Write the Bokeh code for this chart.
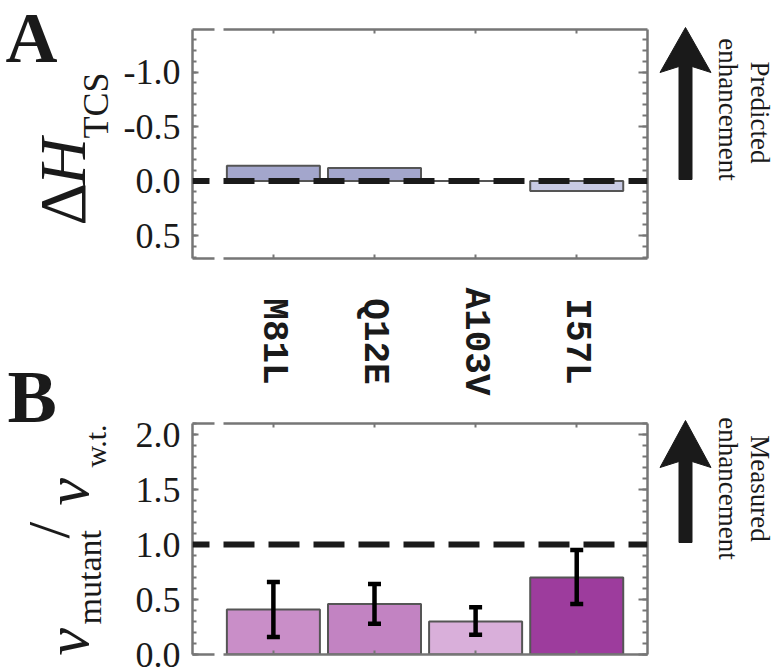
import numpy as np
from math import pi
from bokeh.plotting import figure
from bokeh.models import (Range1d, LinearAxis, FixedTicker, Span, Whisker, TeeHead,
                          ColumnDataSource)
from bokeh.core.properties import value
from bokeh.layouts import row, column
from bokeh.embed import file_html
from bokeh.resources import INLINE

# ---------------- data ----------------
categories = ["M81L", "Q12E", "A103V", "I57L"]
delta_h_tcs = [-0.14, -0.12, 0.0, 0.09]
rate_ratio = [0.41, 0.46, 0.30, 0.70]
rate_upper = [0.66, 0.64, 0.43, 0.95]
rate_lower = [0.16, 0.28, 0.18, 0.46]
colors_a = ["#a3a6cc", "#a3a6cc", "#a3a6cc", "#c8cae4"]
colors_b = ["#c98ec8", "#c283c2", "#d9afda", "#9d3c9d"]
ticks_a = [-1.0, -0.5, 0.0, 0.5]
tick_labels_a = ["-1.0", "-0.5", "0.0", "0.5"]
ticks_b = [0.0, 0.5, 1.0, 1.5, 2.0]
tick_labels_b = ["0.0", "0.5", "1.0", "1.5", "2.0"]

xs = list(range(1, len(categories) + 1))

# ---------------- layout constants ----------------
TOTAL_H = 667
LEFT_W = 120
MID_W = 531
RIGHT_W = 124
HA, HBAND, HB = 262, 158, 247
GRAY = "#767676"
INK = "#1a1a1a"
SERIF = "Liberation Serif"

x_range = Range1d(0.2, 4.7)


def style_axis(ax, major_in, minor_in, labels=True):
    ax.axis_line_color = GRAY
    ax.axis_line_width = 2.5
    ax.major_tick_line_color = GRAY
    ax.major_tick_line_width = 2
    ax.minor_tick_line_color = GRAY
    ax.minor_tick_line_width = 2
    ax.major_tick_in = major_in
    ax.major_tick_out = 0
    ax.minor_tick_in = minor_in
    ax.minor_tick_out = 0
    if labels:
        ax.major_label_text_font = SERIF
        ax.major_label_text_font_size = "36px"
        ax.major_label_text_color = INK
        ax.major_label_standoff = 12
    else:
        ax.major_label_text_font_size = "1px"
        ax.major_label_text_color = None
        ax.major_label_standoff = 0


def make_panel(height, yr, mt, mb, yticks, ylabels, yminor):
    p = figure(width=MID_W, height=height, x_range=x_range, y_range=yr,
               output_backend="svg", toolbar_location=None,
               min_border_left=72, min_border_right=4,
               min_border_top=mt, min_border_bottom=mb)
    p.xgrid.visible = False
    p.ygrid.visible = False
    p.outline_line_color = None
    p.background_fill_color = "white"
    p.border_fill_color = "white"

    left = p.yaxis[0]
    left.ticker = FixedTicker(ticks=yticks, minor_ticks=yminor)
    left.major_label_overrides = {t: l for t, l in zip(yticks, ylabels)}
    style_axis(left, 6, 4)
    bottom = p.xaxis[0]
    bottom.ticker = FixedTicker(ticks=xs, minor_ticks=[])
    style_axis(bottom, 4, 0, labels=False)
    bottom.axis_line_dash = "22 9 2000"

    right = LinearAxis(ticker=FixedTicker(ticks=yticks, minor_ticks=yminor))
    style_axis(right, 9, 5, labels=False)
    p.add_layout(right, "right")
    top = LinearAxis(ticker=FixedTicker(ticks=xs, minor_ticks=[]))
    style_axis(top, 4, 0, labels=False)
    top.axis_line_dash = "22 9 2000"
    p.add_layout(top, "above")
    return p


def blank_fig(width, height, xr, yr, **kw):
    p = figure(width=width, height=height, x_range=xr, y_range=yr,
               x_axis_type=None, y_axis_type=None,
               output_backend="svg", toolbar_location=None,
               min_border=0, **kw)
    p.xgrid.visible = False
    p.ygrid.visible = False
    p.outline_line_color = None
    p.background_fill_color = "white"
    p.border_fill_color = "white"
    return p


def Y(y_top):
    return TOTAL_H - y_top


def txt(p, x, y, text, size, angle=0.0, align="left", style="normal", font=SERIF):
    """(x, y) is the baseline point in page pixels (y from the top)."""
    off = 0.33 * size  # distance from baseline to the text's middle
    if angle == 0:
        ax_, ay_ = x, y - off
    elif angle > 0:
        ax_, ay_ = x - off, y
    else:
        ax_, ay_ = x + off, y
    p.text(x=[ax_], y=[Y(ay_)], text=[text], angle=angle, text_align=align,
           text_baseline="middle", text_font=value(font), text_font_size=f"{size}px",
           text_font_style=style, text_color=INK)


# ---------------- panel A ----------------
minor_a = [round(v, 2) for v in np.arange(-1.3, 0.75, 0.1)]
pA = make_panel(HA, Range1d(0.71, -1.39), 29, 4, ticks_a, tick_labels_a, minor_a)
pA.vbar(x=xs, top=delta_h_tcs, bottom=0, width=0.92, fill_color=colors_a,
        line_color="#555555", line_width=2)
pA.add_layout(Span(location=0, dimension="width", line_color=INK, line_width=6,
                   line_dash="31 14", line_dash_offset=14))

# ---------------- category band ----------------
band = blank_fig(MID_W, HBAND, x_range, Range1d(0, 1),
                 min_border_left=72, min_border_right=4)
band.text(x=xs, y=[0.5] * len(xs), text=categories, angle=-pi / 2,
          text_align="center", text_baseline="middle",
          text_font=value("Liberation Mono"), text_font_style="bold",
          text_font_size="36px", text_color=INK)

# ---------------- panel B ----------------
minor_b = [round(v, 2) for v in np.arange(0.0, 2.15, 0.1)]
pB = make_panel(HB, Range1d(0.0, 2.1), 3, 13, ticks_b, tick_labels_b, minor_b)
pB.vbar(x=xs, top=rate_ratio, bottom=0, width=0.92, fill_color=colors_b,
        line_color="#555555", line_width=2)
pB.add_layout(Span(location=1.0, dimension="width", line_color=INK, line_width=6,
                   line_dash="31 14", line_dash_offset=14))
src = ColumnDataSource(dict(x=xs, upper=rate_upper, lower=rate_lower))
pB.add_layout(Whisker(base="x", upper="upper", lower="lower", source=src,
                      level="overlay", line_width=4.5, line_color="black",
                      upper_head=TeeHead(size=13, line_width=4.5, line_color="black"),
                      lower_head=TeeHead(size=13, line_width=4.5, line_color="black")))

# ---------------- left column: panel letters and y labels ----------------
L = blank_fig(LEFT_W, TOTAL_H, Range1d(0, LEFT_W), Range1d(0, TOTAL_H))
txt(L, 5, 61, "A", 72, style="bold")
txt(L, 84, 225, "Δ", 66, angle=pi / 2)
txt(L, 84, 185, "H", 66, angle=pi / 2, style="italic")
txt(L, 107, 138, "TCS", 36, angle=pi / 2)
txt(L, 7, 421, "B", 74, style="bold")
txt(L, 87, 655, "ν", 62, angle=pi / 2, style="italic")
txt(L, 100, 624, "mutant", 34, angle=pi / 2)
txt(L, 68, 538, "/", 60, angle=pi / 2)
txt(L, 87, 505, "ν", 62, angle=pi / 2, style="italic")
txt(L, 105, 467, "w.t.", 30, angle=pi / 2)

# ---------------- right column: arrows and notes ----------------
X0 = LEFT_W + MID_W
R = blank_fig(RIGHT_W, TOTAL_H, Range1d(X0, X0 + RIGHT_W), Range1d(0, TOTAL_H))


def arrow(p, xc, tip, tail, head_len=45, head_w=51, shaft_w=13, notch=6):
    hx, sx = head_w / 2, shaft_w / 2
    xs_ = [xc, xc + hx, xc + sx, xc + sx, xc - sx, xc - sx, xc - hx]
    ys_ = [tip, tip + head_len, tip + head_len - notch, tail, tail,
           tip + head_len - notch, tip + head_len]
    p.patch(x=xs_, y=[Y(v) for v in ys_], fill_color=INK, line_color=INK, line_width=1)


arrow(R, 685, 27, 179)
arrow(R, 685, 420, 542, head_len=47)
txt(R, 751, 112, "Predicted", 27, angle=-pi / 2, align="center")
txt(R, 719, 109, "enhancement", 27, angle=-pi / 2, align="center")
txt(R, 751, 488, "Measured", 27, angle=-pi / 2, align="center")
txt(R, 719, 488, "enhancement", 27, angle=-pi / 2, align="center")

layout = row(L, column(pA, band, pB), R)
open("out.html", "w").write(file_html(layout, INLINE))
